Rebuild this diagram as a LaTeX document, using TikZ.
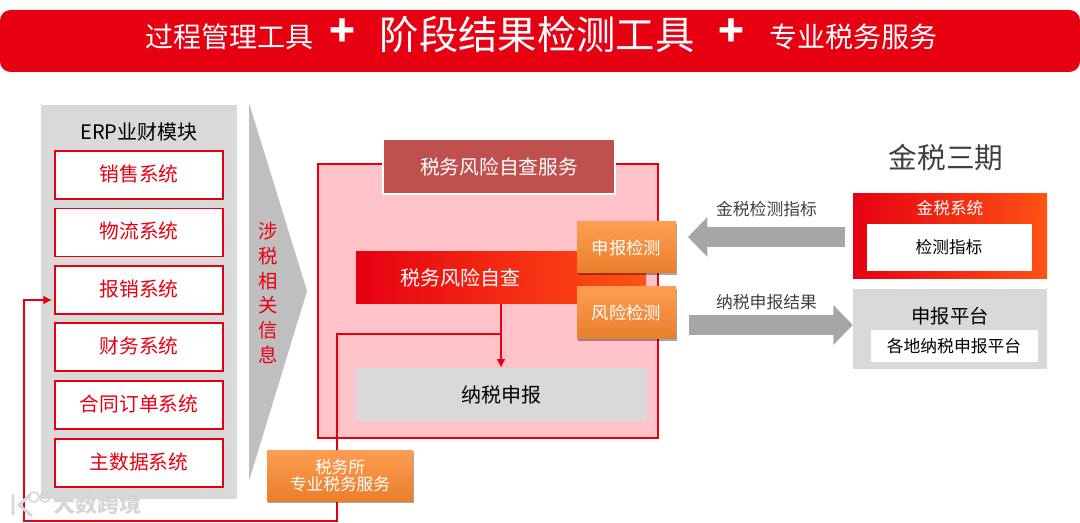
\documentclass[tikz,border=0pt]{standalone}
\usepackage{fontspec}
\setmainfont{Noto Sans CJK SC}
\usetikzlibrary{arrows.meta,shadows}
\definecolor{hdred}{RGB}{230,0,18}
\definecolor{hdorange}{RGB}{255,83,20}
\definecolor{panelgray}{RGB}{217,217,217}
\definecolor{pinkbg}{RGB}{255,194,200}
\definecolor{brickred}{RGB}{192,80,77}
\definecolor{arrowgray}{RGB}{166,166,166}
\definecolor{wedgegray}{RGB}{191,191,191}
\definecolor{txtgray}{RGB}{64,64,64}
\definecolor{orangetop}{RGB}{255,157,82}
\definecolor{orangebot}{RGB}{232,127,44}
\newcommand{\fsz}[1]{\fontsize{#1}{#1}\selectfont}
\tikzset{
  rect/.style={inner sep=0pt,minimum width=#1*0.75pt},
  syslabel/.style={rect=168,minimum height=48*0.75pt,draw=hdred,line width=0.8pt,fill=white},
  gradbox/.style={inner sep=0pt,left color=hdred,right color=hdorange,text=white},
  orangebox/.style={inner sep=0pt,top color=orangetop,bottom color=orangebot,text=white,align=center,
    drop shadow={shadow xshift=0.8pt,shadow yshift=-1.2pt,opacity=.35,fill=black}},
  blockarrow/.style={draw=arrowgray,line width=15pt,-{Triangle[length=14.5pt,width=29pt]}},
  redline/.style={draw=hdred,line width=1.5pt},
  plain/.style={inner sep=0pt},
}
\begin{document}
\begin{tikzpicture}[x=0.75pt,y=0.75pt,yscale=-1,xscale=1]
\useasboundingbox (0,0) rectangle (1080,523);

% title bar
\node[rect=1080,minimum height=62*0.75pt,fill=hdred,rounded corners=8pt] (titlebar) at (540,41) {};
\node[plain,text=white,font=\fsz{21}] (titlea) at (229,37) {过程管理工具};
\node[plain,text=white,font=\fsz{32}\bfseries] (plusa) at (342,33) {+};
\node[plain,text=white,font=\fsz{29.5}] (titleb) at (537,34.5) {阶段结果检测工具};
\node[plain,text=white,font=\fsz{32}\bfseries] (plusb) at (731,33) {+};
\node[plain,text=white,font=\fsz{21}] (titlec) at (853,37) {专业税务服务};

% ERP panel
\node[rect=196,minimum height=394*0.75pt,fill=panelgray] (erp) at (139,302) {};
\node[plain,font=\fsz{15}] (erptitle) at (139,132) {ERP业财模块};
\foreach \y/\name/\label in {175/xiaoshou/销售系统,232.5/wuliu/物流系统,290/baoxiao/报销系统,347/caiwu/财务系统,405/hetong/合同订单系统,463/zhushuju/主数据系统}{
  \node[syslabel] (\name) at (139,\y) {};
  \node[plain,text=hdred,font=\fsz{14.8}] (\name text) at (139,\y-1.5) {\label};
}

% wedge
\fill[wedgegray] (249,103) -- (307,291) -- (249,481) -- cycle;
\node[plain,text=hdred,font=\fsz{14.5},align=center] (wedgetext) at (268,293)
  {涉\\[4.2pt]税\\[4.2pt]相\\[4.2pt]关\\[4.2pt]信\\[4.2pt]息};

% self check block
\node[rect=340,minimum height=274*0.75pt,draw=hdred,line width=0.8pt,fill=pinkbg] (riskarea) at (488,301) {};
\node[rect=232,minimum height=55*0.75pt,draw=white,line width=1.5pt,fill=brickred,text=white,font=\fsz{14.8}] (riskservice) at (499,166.5) {税务风险自查服务};
\node[rect=290,minimum height=52*0.75pt,gradbox] (zicha) at (501,278) {};
\node[plain,text=white,font=\fsz{15}] (zichatext) at (460,278) {税务风险自查};
\node[rect=292,minimum height=53*0.75pt,fill=panelgray,font=\fsz{15}] (nashui) at (501,394.5) {纳税申报};
\coordinate (junc) at (501,334);
\coordinate (loopend) at (52,300);
\draw[redline,-{Latex[length=6.5pt,width=7pt]}] (zicha.south) -- (nashui.north);
\draw[redline,-{Latex[length=6.5pt,width=7pt]}] (junc) -- (337,334) -- (337,521) -- (24,521) -- (24,300) -- (loopend);
\node[rect=99,minimum height=51*0.75pt,orangebox,font=\fsz{13}] (shenbao) at (626.5,247.5) {申报检测};
\node[rect=99,minimum height=52*0.75pt,orangebox,font=\fsz{13}] (fengxian) at (626.5,313) {风险检测};
\node[rect=146,minimum height=51*0.75pt,orangebox,font=\fsz{12.5}] (shuiwusuo) at (340,475.5) {税务所\\专业税务服务};

% right side
\node[plain,text=txtgray,font=\fsz{21.5}] (jinshui) at (946,158) {金税三期};
\node[rect=194,minimum height=85*0.75pt,gradbox] (jssys) at (950,236) {};
\node[plain,text=white,font=\fsz{12.5}] (jssystext) at (950,208) {金税系统};
\node[rect=165,minimum height=47*0.75pt,fill=white,font=\fsz{12.5}] (jiance) at (949,247.5) {检测指标};
\node[rect=194,minimum height=80*0.75pt,fill=panelgray] (platform) at (950,329) {};
\node[plain,font=\fsz{14.5}] (platformtext) at (950,316) {申报平台};
\node[rect=167,minimum height=32*0.75pt,fill=white,font=\fsz{12.6}] (local) at (954,346) {各地纳税申报平台};

% block arrows
\coordinate (leftfrom) at (845,237);
\coordinate (leftto) at (688,237);
\coordinate (rightfrom) at (689,325);
\draw[blockarrow] (leftfrom) -- (leftto);
\draw[blockarrow] (rightfrom) -- (platform.west |- rightfrom);
\node[plain,text=txtgray,font=\fsz{12.6}] (lblleft) at (766.5,209) {金税检测指标};
\node[plain,text=txtgray,font=\fsz{12.6}] (lblright) at (766.5,302) {纳税申报结果};

% watermark
\node[plain,text=black!16,font=\fsz{16.5}\bfseries] (mark) at (97,504) {大数跨境};
\draw[black!16,line width=2.2pt] (13,494) -- (13,515) (30,495) -- (19,505) -- (32,516);
\draw[black!16,line width=1.2pt] (34,497) circle [radius=5] (45,497) circle [radius=5];
\end{tikzpicture}
\end{document}
